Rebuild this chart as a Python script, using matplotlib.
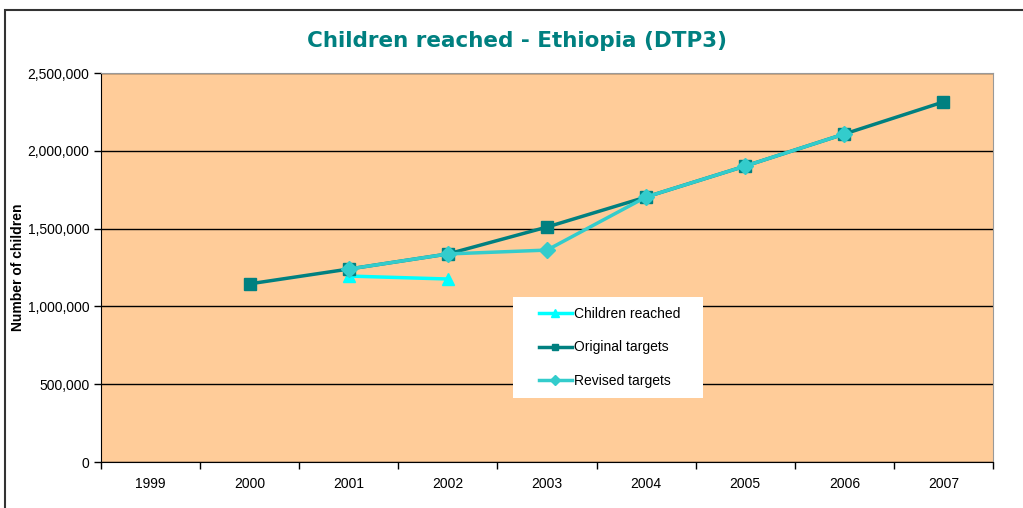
import matplotlib.pyplot as plt
from matplotlib.patches import Rectangle
from matplotlib.ticker import FuncFormatter

years = ['1999', '2000', '2001', '2002', '2003', '2004', '2005', '2006', '2007']
reached = [None, None, 1195000, 1176000, None, None, None, None, None]
original = [None, 1145000, 1240000, 1337000, 1510000, 1703000, 1902000, 2108000, 2314000]
revised = [None, None, 1240000, 1337000, 1362000, 1703000, 1902000, 2108000, None]

plt.rcParams['font.family'] = ['Liberation Sans', 'DejaVu Sans']

W, H = 1023, 508
fig = plt.figure(figsize=(W / 100, H / 100), dpi=100)
ax = fig.add_axes([101 / W, 1 - 462 / H, 892 / W, 389 / H])
ax.set_facecolor('#FFCC99')

x = list(range(len(years)))


def pts(vals):
    xs = [i for i, v in zip(x, vals) if v is not None]
    ys = [v for v in vals if v is not None]
    return xs, ys


xs, ys = pts(reached)
ax.plot(xs, ys, color='#00FFFF', lw=2.5, marker='^', ms=9, label='Children reached', zorder=3)
xs, ys = pts(original)
ax.plot(xs, ys, color='#008080', lw=2.5, marker='s', ms=8, label='Original targets', zorder=4)
xs, ys = pts(revised)
ax.plot(xs, ys, color='#33CCCC', lw=2.5, marker='D', ms=8, label='Revised targets', zorder=5)

ax.set_xlim(-0.5, 8.5)
ax.set_ylim(0, 2500000)
ax.set_xticks(x)
ax.set_xticklabels(years, fontsize=10)
ax.set_xticks([i - 0.5 for i in range(10)], minor=True)
ax.tick_params(axis='x', which='major', length=0, pad=11)
ax.tick_params(axis='x', which='minor', length=5, width=1, direction='out')
ax.set_yticks(range(0, 2500001, 500000))
ax.yaxis.set_major_formatter(FuncFormatter(lambda v, p: f'{int(v):,}'))
ax.tick_params(axis='y', labelsize=10, length=5, width=1)
ax.grid(axis='y', color='black', lw=1)
ax.set_axisbelow(True)
for s in ['top', 'right']:
    ax.spines[s].set_color('#999999')
ax.spines['left'].set_color('black')
ax.spines['bottom'].set_color('black')

ax.set_ylabel('Number of children', fontsize=10, fontweight='bold')
ax.yaxis.set_label_coords(-0.085, 0.5)

# white legend box (pixel extents of the reference)
fig.patches.append(Rectangle((513 / W, 1 - 398 / H), 190 / W, 101 / H,
                             transform=fig.transFigure, facecolor='white',
                             edgecolor='none', zorder=6))
leg = ax.legend(loc='upper left', bbox_to_anchor=(539 / W, 1 - 307 / H),
                bbox_transform=fig.transFigure, fontsize=10, frameon=False,
                handlelength=2.35, markerscale=0.6, labelspacing=1.4,
                borderpad=0, handletextpad=0.15, borderaxespad=0)
leg.set_zorder(7)
fig.legends.append(leg)
ax.get_legend().remove()

fig.text(0.505, 0.92, 'Children reached - Ethiopia (DTP3)', ha='center', va='center',
         fontsize=15.5, fontweight='bold', color='#008080', family='DejaVu Sans')

fig.patches.append(Rectangle((5 / W, -0.1), 1.2, 1.1 - 10 / H, transform=fig.transFigure,
                             fill=False, edgecolor='#333333', lw=1.5))

fig.savefig('out.png', dpi=100)
